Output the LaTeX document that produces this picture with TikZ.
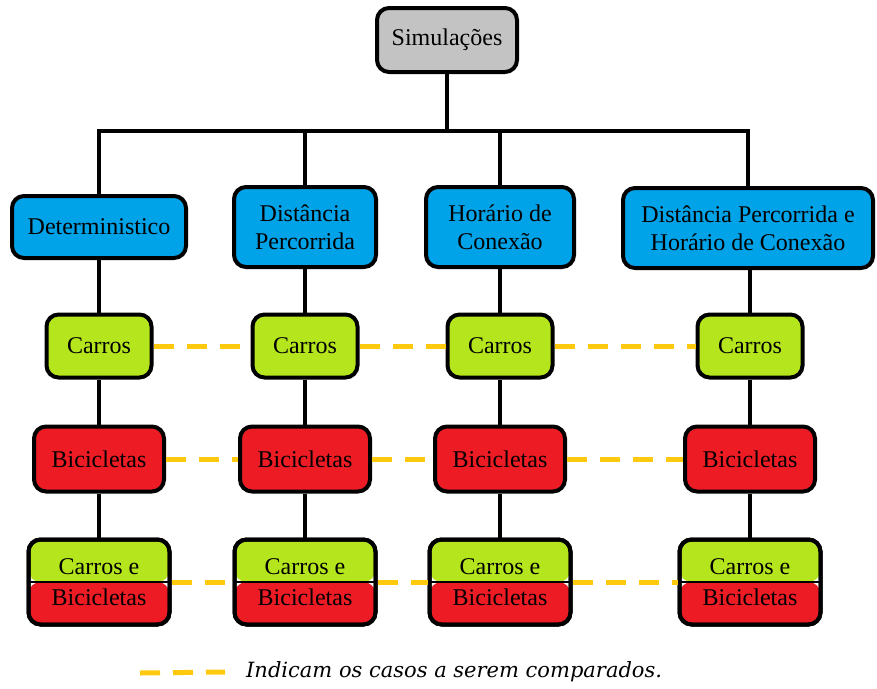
\documentclass[tikz,border=0pt]{standalone}
\usepackage{fontspec}
\setmainfont{Liberation Serif}
\newfontfamily\notefont{DejaVu Serif}
\definecolor{simgray}{HTML}{C3C3C3}
\definecolor{metblue}{HTML}{00A2E8}
\definecolor{carlime}{HTML}{B5E61D}
\definecolor{bicred}{HTML}{ED1C24}
\definecolor{cmpgold}{HTML}{FFC90E}
\begin{document}
\begin{tikzpicture}[x=1pt, y=-1pt,
    box/.style={draw, line width=4pt, rounded corners=12pt, inner sep=0pt, align=center,
        font=\fontsize{24}{28}\selectfont},
    method/.style={box, fill=metblue, minimum height=80pt},
    carbox/.style={box, fill=carlime, minimum width=105pt, minimum height=63pt},
    bikebox/.style={box, fill=bicred, minimum width=130pt, minimum height=65pt},
    mixbox/.style={box, minimum width=141pt, minimum height=85pt, font=\fontsize{24}{31}\selectfont,
        path picture={
            \fill[carlime] (path picture bounding box.north west) rectangle (path picture bounding box.east);
            \fill[bicred] (path picture bounding box.west) rectangle (path picture bounding box.south east);
            \draw[line width=2pt] (path picture bounding box.west) -- (path picture bounding box.east);},
        postaction={draw, line width=4pt}},
    link/.style={line width=4pt},
    cmp/.style={line width=5pt, cmpgold, dash pattern=on 20pt off 13pt}]
    \useasboundingbox (0,0) rectangle (877,688);
    % top
    \node[box, fill=simgray, minimum width=140pt, minimum height=64pt] (sim) at (447,40) {Simulações};
    \coordinate (bus) at (447,131);
    % methods
    \node[method, minimum width=174pt, minimum height=62pt] (det) at (99,227) {Deterministico};
    \node[method, minimum width=142pt] (dist) at (305,227) {Distância\\Percorrida};
    \node[method, minimum width=148pt] (hor) at (500,227) {Horário de\\Conexão};
    \node[method, minimum width=250pt] (both) at (748,228) {Distância Percorrida e\\Horário de Conexão};
    % vehicles, one column per method
    \node[carbox] (car1) at (99,346) {Carros};
    \node[carbox] (car2) at (305,346) {Carros};
    \node[carbox] (car3) at (500,346) {Carros};
    \node[carbox] (car4) at (750,346) {Carros};
    \node[bikebox] (bike1) at (99,459) {Bicicletas};
    \node[bikebox] (bike2) at (305,459) {Bicicletas};
    \node[bikebox] (bike3) at (500,459) {Bicicletas};
    \node[bikebox] (bike4) at (750,459) {Bicicletas};
    \node[mixbox] (mix1) at (99,582) {Carros e\\Bicicletas};
    \node[mixbox] (mix2) at (305,582) {Carros e\\Bicicletas};
    \node[mixbox] (mix3) at (500,582) {Carros e\\Bicicletas};
    \node[mixbox] (mix4) at (750,582) {Carros e\\Bicicletas};
    % tree
    \draw[link] (sim) -- (bus);
    \draw[link] (det) |- (bus);
    \draw[link] (dist) |- (bus);
    \draw[link] (hor) |- (bus);
    \draw[link] (both) |- (bus);
    \draw[link] (det) -- (car1) -- (bike1) -- (mix1);
    \draw[link] (dist) -- (car2) -- (bike2) -- (mix2);
    \draw[link] (hor) -- (car3) -- (bike3) -- (mix3);
    \draw[link] (both.south -| car4) -- (car4) -- (bike4) -- (mix4);
    % compared cases
    \draw[cmp] (car1) -- (car2) (car2) -- (car3) (car3) -- (car4);
    \draw[cmp] (bike1) -- (bike2) (bike2) -- (bike3) (bike3) -- (bike4);
    \draw[cmp] (mix1) -- (mix2) (mix2) -- (mix3) (mix3) -- (mix4);
    % legend
    \coordinate (keyA) at (140,673);
    \node[anchor=west, inner sep=0pt, font=\notefont\itshape\fontsize{21}{24}\selectfont] (note) at (246,672)
        {Indicam os casos a serem comparados.};
    \draw[cmp] (keyA) -- ([xshift=-21pt]note.west);
\end{tikzpicture}
\end{document}
